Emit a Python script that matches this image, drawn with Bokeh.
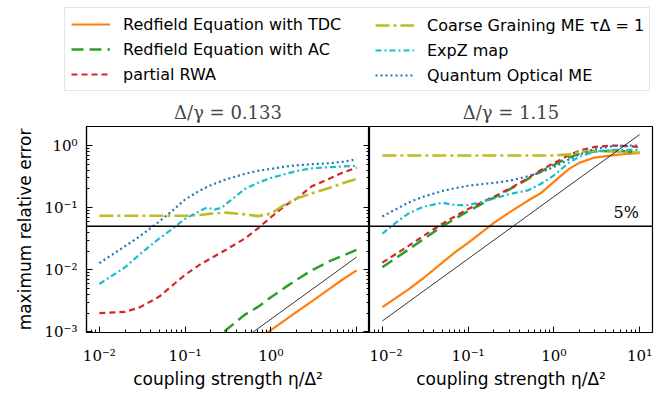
from bokeh.plotting import figure
from bokeh.models import Range1d, FixedTicker, LogAxis, Span, Label, Legend, LegendItem
from bokeh.layouts import column, row
from bokeh.embed import file_html
from bokeh.resources import INLINE

# ---- data -------------------------------------------------------------
x_grid = [0.01, 0.02, 0.03, 0.05, 0.07, 0.1, 0.15, 0.2, 0.3, 0.5, 0.7, 1, 1.5, 2, 3, 5, 7, 10]

# panel 1: Delta/gamma = 0.133
tdc_x_1 = [0.5, 0.7, 1, 2, 3, 5, 7, 10]
tdc_y_1 = [0.00055, 0.00076, 0.00107, 0.0021, 0.0031, 0.0051, 0.0071, 0.0098]
ac_x_1 = [0.2, 0.3, 0.5, 0.7, 1, 1.5, 2, 3, 5, 7, 10]
ac_y_1 = [0.00065, 0.00107, 0.0019, 0.0025, 0.0036, 0.0053, 0.0069, 0.0098, 0.014, 0.017, 0.021]
rwa_y_1 = [0.002, 0.0021, 0.0025, 0.0037, 0.0055, 0.0083, 0.0122, 0.0153, 0.021, 0.032,
           0.046, 0.07, 0.11, 0.14, 0.22, 0.3, 0.37, 0.44]
cg_y_1 = [0.074, 0.074, 0.074, 0.074, 0.074, 0.074, 0.076, 0.08, 0.083, 0.078,
          0.073, 0.08, 0.115, 0.14, 0.17, 0.21, 0.25, 0.29]
expz_x_1 = [0.01, 0.02, 0.03, 0.05, 0.07, 0.1, 0.15, 0.18, 0.22, 0.27, 0.3, 0.5, 0.7,
            1, 1.5, 2, 3, 5, 7, 10]
expz_y_1 = [0.0059, 0.011, 0.018, 0.032, 0.045, 0.066, 0.089, 0.1, 0.093, 0.1, 0.115,
            0.2, 0.25, 0.3, 0.35, 0.39, 0.43, 0.45, 0.46, 0.47]
qo_y_1 = [0.0128, 0.024, 0.035, 0.06, 0.088, 0.135, 0.19, 0.23, 0.285, 0.35, 0.39,
          0.42, 0.46, 0.48, 0.5, 0.52, 0.55, 0.6]
ref_x = [0.01, 10]
ref_y_1 = [1.6e-5, 0.016]

# panel 2: Delta/gamma = 1.15
tdc_y_2 = [0.0025, 0.0048, 0.0073, 0.013, 0.019, 0.027, 0.042, 0.057, 0.083, 0.13,
           0.17, 0.26, 0.42, 0.53, 0.64, 0.7, 0.73, 0.75]
ac_y_2 = [0.011, 0.021, 0.031, 0.05, 0.066, 0.088, 0.118, 0.145, 0.195, 0.29, 0.38,
          0.49, 0.64, 0.74, 0.8, 0.82, 0.8, 0.78]
rwa_y_2 = [0.013, 0.024, 0.035, 0.055, 0.072, 0.095, 0.125, 0.15, 0.2, 0.3, 0.4,
           0.52, 0.7, 0.83, 0.95, 1.0, 0.98, 0.95]
cg_y_2 = [0.69, 0.69, 0.69, 0.69, 0.69, 0.69, 0.69, 0.69, 0.69, 0.69, 0.69, 0.69,
          0.72, 0.78, 0.82, 0.8, 0.78, 0.77]
expz_x_2 = [0.01, 0.015, 0.02, 0.03, 0.05, 0.07, 0.1, 0.15, 0.2, 0.3, 0.5, 0.7, 1,
            1.5, 2, 3, 5, 7, 10]
expz_y_2 = [0.038, 0.06, 0.08, 0.103, 0.12, 0.11, 0.11, 0.125, 0.14, 0.165, 0.19,
            0.24, 0.33, 0.53, 0.66, 0.8, 0.85, 0.85, 0.85]
qo_y_2 = [0.072, 0.12, 0.15, 0.185, 0.205, 0.225, 0.24, 0.25, 0.27, 0.32, 0.37,
          0.45, 0.6, 0.72, 0.88, 0.98, 1.0, 1.0]
ref_y_2 = [0.0015, 1.5]

threshold = 0.05

series_names = ["Redfield Equation with TDC", "Redfield Equation with AC", "partial RWA",
                "Coarse Graining ME τΔ = 1", "ExpZ map", "Quantum Optical ME"]
titles = ["Δ/γ = 0.133", "Δ/γ = 1.15"]
x_major = [0.01, 0.1, 1, 10]
y_major = [0.001, 0.01, 0.1, 1]
x_labels_1 = {0.01: "10⁻²", 0.1: "10⁻¹", 1: "10⁰", 10: ""}
x_labels_2 = {0.01: "10⁻²", 0.1: "10⁻¹", 1: "10⁰", 10: "10¹"}
y_labels = {0.001: "10⁻³", 0.01: "10⁻²", 0.1: "10⁻¹", 1: "10⁰"}

# ---- styles -----------------------------------------------------------
styles = [
    dict(line_color="#ff7f0e", line_width=2.2, line_dash="solid"),
    dict(line_color="#2ca02c", line_width=2.5, line_dash="12 6"),
    dict(line_color="#d62728", line_width=2.2, line_dash="6 4"),
    dict(line_color="#bcbd22", line_width=2.6, line_dash="14 4 3 4"),
    dict(line_color="#17becf", line_width=2.2, line_dash="6 3 2 3"),
    dict(line_color="#1f77b4", line_width=2.2, line_dash="2 3"),
]

SANS = "DejaVu Sans"
SERIF = "DejaVu Serif"

minor = [m * 10.0 ** e for e in range(-4, 2) for m in range(2, 10)]
x_lo, x_hi = 10 ** -2.15, 10 ** 1.15
y_lo, y_hi = 10 ** -3.01, 10 ** 0.306


def style_axis(ax, ticks, labels):
    ax.ticker = FixedTicker(ticks=ticks, minor_ticks=minor)
    ax.major_label_overrides = labels
    ax.major_label_text_font = SERIF
    ax.major_label_text_font_size = "15px"
    ax.major_label_text_color = "black"
    ax.axis_line_color = "black"
    ax.axis_line_width = 1.2
    ax.major_tick_line_color = "black"
    ax.minor_tick_line_color = "black"
    ax.major_tick_in = 6
    ax.major_tick_out = 0
    ax.minor_tick_in = 3
    ax.minor_tick_out = 0
    ax.axis_label_text_font = SANS
    ax.axis_label_text_font_size = "17px"
    ax.axis_label_text_font_style = "normal"
    ax.axis_label_text_color = "black"


def make_panel(title, left_border, right_border):
    p = figure(x_axis_type="log", y_axis_type="log",
               x_range=Range1d(x_lo, x_hi), y_range=Range1d(y_lo, y_hi),
               frame_width=283, frame_height=206,
               min_border_left=left_border, min_border_right=right_border,
               min_border_top=30, min_border_bottom=62,
               output_backend="svg", toolbar_location=None)
    p.title.text = title
    p.title.align = "center"
    p.title.text_font = SERIF
    p.title.text_font_size = "18px"
    p.title.text_font_style = "normal"
    p.title.standoff = 8
    p.xgrid.visible = False
    p.ygrid.visible = False
    p.outline_line_color = "black"
    p.outline_line_width = 1.2
    p.background_fill_color = "white"
    p.border_fill_color = "white"
    return p


def draw_curves(p, curves, ref_y):
    for (xs, ys), st in zip(curves, styles):
        p.line(xs, ys, **st)
    p.line(ref_x, ref_y, line_color="black", line_width=0.8)
    p.add_layout(Span(location=threshold, dimension="width",
                      line_color="black", line_width=1.5))


def style_xaxis(ax, labels):
    style_axis(ax, x_major, labels)
    ax.axis_label = "coupling strength η/Δ²"
    ax.major_label_standoff = 14
    ax.axis_label_standoff = 1


# ---- left panel -------------------------------------------------------
p1 = make_panel(titles[0], 86, 0)
draw_curves(p1, [(tdc_x_1, tdc_y_1), (ac_x_1, ac_y_1), (x_grid, rwa_y_1),
                 (x_grid, cg_y_1), (expz_x_1, expz_y_1), (x_grid, qo_y_1)], ref_y_1)
style_xaxis(p1.xaxis[0], x_labels_1)
style_axis(p1.yaxis[0], y_major, y_labels)
p1.yaxis[0].axis_label = "maximum relative error"
p1.yaxis[0].major_label_standoff = 9
p1.yaxis[0].axis_label_standoff = 6

# inward ticks along the shared edge
right_ax = LogAxis()
style_axis(right_ax, y_major, {0.001: "", 0.01: "", 0.1: "", 1: ""})
right_ax.major_label_standoff = 0
right_ax.axis_line_alpha = 0
p1.add_layout(right_ax, "right")

# ---- right panel ------------------------------------------------------
p2 = make_panel(titles[1], 0, 12)
draw_curves(p2, [(x_grid, tdc_y_2), (x_grid, ac_y_2), (x_grid, rwa_y_2),
                 (x_grid, cg_y_2), (expz_x_2, expz_y_2), (x_grid, qo_y_2)], ref_y_2)
style_xaxis(p2.xaxis[0], x_labels_2)
p2.yaxis.visible = False
p2.add_layout(Label(x=9.8, y=threshold, text="5%", text_align="right",
                    text_baseline="bottom", y_offset=4, text_font=SERIF,
                    text_font_size="16px", text_color="black"))

# ---- legend strip -----------------------------------------------------
# sample lines sit outside the strip's visible range; only their legend
# glyphs are shown
p0 = figure(width=664, height=95, x_range=Range1d(0, 1), y_range=Range1d(0, 1),
            min_border=0, output_backend="svg", toolbar_location=None)
p0.axis.visible = False
p0.xgrid.visible = False
p0.ygrid.visible = False
p0.outline_line_color = None
samples = [p0.line(x=[2, 3], y=[2, 3], **st) for st in styles]


def make_legend(items, loc, framed):
    lg = Legend(items=items, location=loc, orientation="vertical",
                label_text_font=SANS, label_text_font_size="16px",
                label_text_color="black", glyph_width=39, glyph_height=20,
                label_height=20, label_standoff=13, spacing=5, padding=6)
    if framed:
        lg.label_width = 520
        lg.border_line_color = "#cccccc"
        lg.border_line_width = 1
        lg.background_fill_color = "white"
        lg.background_fill_alpha = 1
    else:
        lg.border_line_alpha = 0
        lg.background_fill_alpha = 0
    return lg


items = [LegendItem(label=n, renderers=[r]) for n, r in zip(series_names, samples)]
p0.add_layout(make_legend(items[:3], (64, 4), True), "center")
p0.add_layout(make_legend(items[3:], (369, 4), False), "center")

layout = column(p0, row(p1, p2, spacing=0), spacing=0)
open("out.html", "w").write(file_html(layout, INLINE))
